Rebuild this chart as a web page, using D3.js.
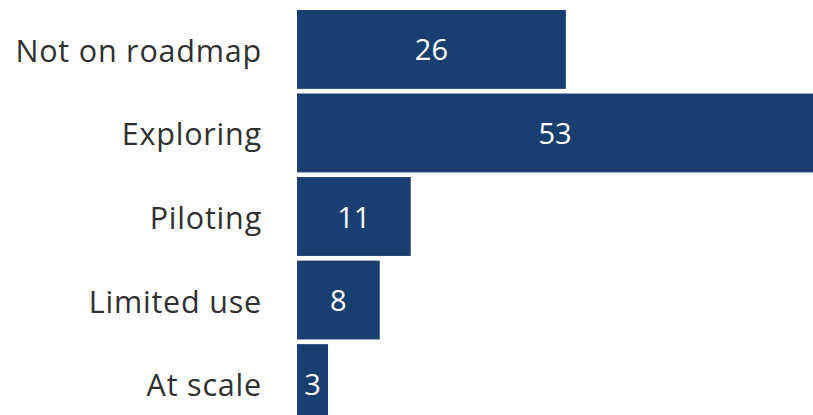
<!DOCTYPE html>
<html>
<head>
<meta charset="utf-8">
<script src="https://cdn.jsdelivr.net/npm/d3@7"></script>
<style>
  html, body { margin: 0; padding: 0; background: #fff; overflow: hidden; }
  svg { display: block; }
  text { font-family: "Open Sans", Lato, sans-serif; }
</style>
</head>
<body>
<svg id="chart" width="813" height="415"></svg>
<script>
// Adoption stage of respondents
const categories = ["Not on roadmap", "Exploring", "Piloting", "Limited use", "At scale"];
const values = [26, 53, 11, 8, 3];

const W = 813, H = 415;
const left = 297;
const svg = d3.select("#chart");

const x = d3.scaleLinear().domain([0, 53]).range([left, left + 548]);
const y = d3.scaleBand().domain(categories).range([10, 423]).paddingInner(0.056).paddingOuter(0);

svg.append("g")
  .selectAll("rect")
  .data(categories)
  .join("rect")
  .attr("x", x(0))
  .attr("y", d => y(d))
  .attr("width", (d, i) => x(values[i]) - x(0))
  .attr("height", y.bandwidth())
  .attr("fill", "#183f6f");

// category labels
const yAxis = d3.axisLeft(y).tickSize(0).tickPadding(35);
const ag = svg.append("g").attr("transform", `translate(${left},0)`).call(yAxis);
ag.select(".domain").remove();
ag.selectAll("text")
  .attr("font-family", "'Open Sans', sans-serif")
  .attr("font-size", 30.5)
  .attr("letter-spacing", "0.8px")
  .attr("dy", "0.41em")
  .attr("fill", "#303030");

// value labels centred on the visible part of each bar
svg.append("g")
  .selectAll("text")
  .data(categories)
  .join("text")
  .attr("x", (d, i) => (x(0) + Math.min(x(values[i]), W)) / 2)
  .attr("y", d => y(d) + y.bandwidth() / 2)
  .attr("dy", "0.38em")
  .attr("text-anchor", "middle")
  .attr("font-size", 29)
  .attr("fill", "#fff")
  .text((d, i) => values[i]);
</script>
</body>
</html>
